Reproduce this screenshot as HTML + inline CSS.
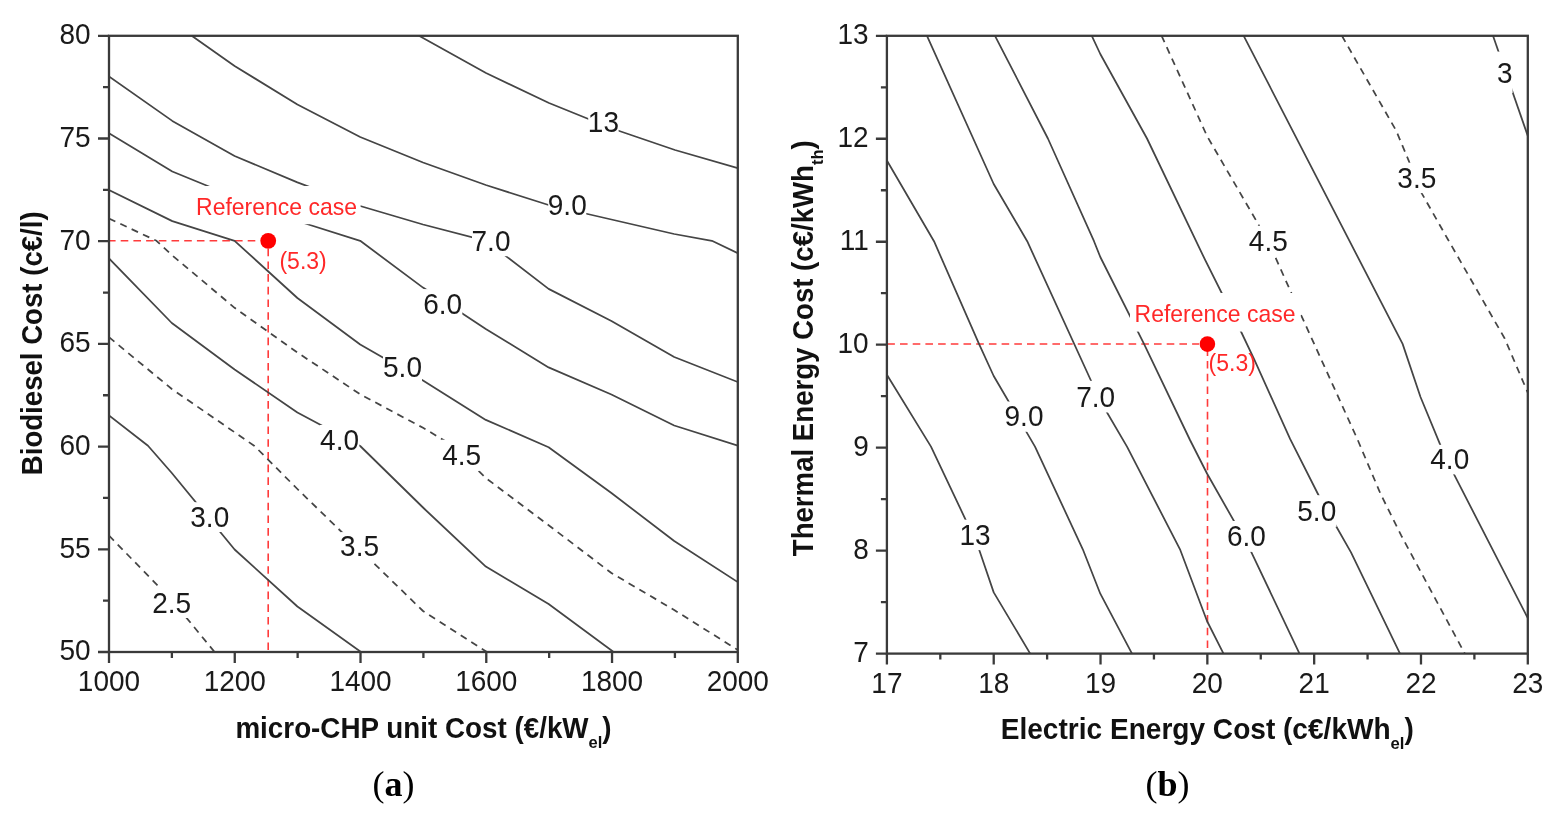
<!DOCTYPE html>
<html><head><meta charset="utf-8"><title>Figure</title>
<style>
html,body{margin:0;padding:0;background:#fff;width:1557px;height:813px;overflow:hidden}
svg{display:block}
.tk,.cl{font-family:"Liberation Sans",Arial,sans-serif;font-size:28px;fill:#1a1a1a}
.rd{font-family:"Liberation Sans",Arial,sans-serif;font-size:23px;fill:#ff2828}
.rdl{stroke:#ff3b3b;stroke-width:1.6;stroke-dasharray:7.6 5.1}
.at{font-family:"Liberation Sans",Arial,sans-serif;font-size:27px;font-weight:bold;fill:#111}
.sub{font-size:16px}
.pl{font-family:"Liberation Serif","Times New Roman",serif;font-size:36px;fill:#000}
</style></head><body>
<svg width="1557" height="813" viewBox="0 0 1557 813">
<defs><clipPath id="cl"><rect x="109.0" y="35.8" width="628.8" height="616.2"/></clipPath><clipPath id="cr"><rect x="886.9" y="35.8" width="640.9" height="617.8000000000001"/></clipPath></defs>
<g clip-path="url(#cl)">
<line x1="108" y1="240.8" x2="260" y2="240.8" class="rdl"/>
<line x1="268.2" y1="248.7" x2="268.2" y2="652.0" class="rdl"/>
<polyline points="419.0,35.8 486.0,73.0 549.0,103.0 612.0,128.5 675.0,150.0 737.8,168.2" fill="none" stroke="#454545" stroke-width="1.75" stroke-linejoin="round"/>
<polyline points="191.7,35.8 234.6,66.0 297.4,104.5 360.2,137.0 423.0,162.5 485.8,185.0 548.6,205.0 611.4,219.5 674.2,234.0 711.9,240.8 737.8,253.2" fill="none" stroke="#454545" stroke-width="1.75" stroke-linejoin="round"/>
<polyline points="109.0,76.5 172.3,120.9 234.6,156.0 297.4,182.4 360.2,206.0 423.0,224.5 486.0,240.8 548.6,288.9 611.4,321.0 674.2,357.0 737.8,382.0" fill="none" stroke="#454545" stroke-width="1.75" stroke-linejoin="round"/>
<polyline points="109.0,133.3 172.3,171.5 234.6,197.0 297.4,221.0 360.2,240.8 423.0,287.6 485.8,329.0 548.6,367.4 611.4,394.5 674.2,425.5 737.8,445.7" fill="none" stroke="#454545" stroke-width="1.75" stroke-linejoin="round"/>
<polyline points="109.0,190.1 172.3,221.1 234.6,240.8 297.4,298.0 360.2,344.5 423.0,380.5 485.8,419.9 548.6,447.2 611.4,493.0 674.2,541.0 737.8,582.1" fill="none" stroke="#454545" stroke-width="1.75" stroke-linejoin="round"/>
<polyline points="109.0,218.5 156.5,240.8 171.8,255.0 234.6,307.8 297.4,352.5 360.2,394.3 423.0,427.8 453.0,445.7 485.8,478.0 548.6,525.2 611.4,573.0 674.2,610.0 737.8,650.0" fill="none" stroke="#454545" stroke-width="1.75" stroke-linejoin="round" stroke-dasharray="7 5.5"/>
<polyline points="109.0,258.4 171.8,323.0 234.6,369.5 297.4,412.5 360.2,446.0 423.0,507.5 485.8,566.6 548.6,604.0 613.6,652.0" fill="none" stroke="#454545" stroke-width="1.75" stroke-linejoin="round"/>
<polyline points="109.0,337.2 171.8,389.0 254.5,446.0 297.4,489.0 360.2,550.0 423.0,611.0 487.0,652.0" fill="none" stroke="#454545" stroke-width="1.75" stroke-linejoin="round" stroke-dasharray="7 5.5"/>
<polyline points="109.0,415.4 148.0,445.7 171.8,473.0 234.6,549.5 297.4,606.5 361.0,652.0" fill="none" stroke="#454545" stroke-width="1.75" stroke-linejoin="round"/>
<polyline points="109.0,535.6 171.8,600.0 214.6,652.0" fill="none" stroke="#454545" stroke-width="1.75" stroke-linejoin="round" stroke-dasharray="7 5.5"/>
<rect x="588.2" y="107.2" width="30.4" height="30.3" fill="#fff"/><text transform="translate(603.40,132.00) scale(1.0,1.07)" text-anchor="middle" class="cl">13</text>
<rect x="548.2" y="189.8" width="38.1" height="30.4" fill="#fff"/><text transform="translate(567.25,214.70) scale(1.0,1.07)" text-anchor="middle" class="cl">9.0</text>
<rect x="472.0" y="225.5" width="38.0" height="30.7" fill="#fff"/><text transform="translate(491.00,250.70) scale(1.0,1.07)" text-anchor="middle" class="cl">7.0</text>
<rect x="422.9" y="289.1" width="39.4" height="30.4" fill="#fff"/><text transform="translate(442.60,314.00) scale(1.0,1.07)" text-anchor="middle" class="cl">6.0</text>
<rect x="383.0" y="352.3" width="39.0" height="30.4" fill="#fff"/><text transform="translate(402.50,377.20) scale(1.0,1.07)" text-anchor="middle" class="cl">5.0</text>
<rect x="441.7" y="439.7" width="40.0" height="31.1" fill="#fff"/><text transform="translate(461.70,465.30) scale(1.0,1.07)" text-anchor="middle" class="cl">4.5</text>
<rect x="319.8" y="425.0" width="39.5" height="30.5" fill="#fff"/><text transform="translate(339.55,450.00) scale(1.0,1.07)" text-anchor="middle" class="cl">4.0</text>
<rect x="340.5" y="532.1" width="38.1" height="29.6" fill="#fff"/><text transform="translate(359.55,556.20) scale(1.0,1.07)" text-anchor="middle" class="cl">3.5</text>
<rect x="190.7" y="502.2" width="38.1" height="29.8" fill="#fff"/><text transform="translate(209.75,526.50) scale(1.0,1.07)" text-anchor="middle" class="cl">3.0</text>
<rect x="151.9" y="588.2" width="39.5" height="29.8" fill="#fff"/><text transform="translate(171.65,612.50) scale(1.0,1.07)" text-anchor="middle" class="cl">2.5</text>
<rect x="192.6" y="186" width="168" height="38.2" fill="#fff"/>
<text transform="translate(276.50,215.20) scale(1.0,1.07)" text-anchor="middle" class="rd">Reference case</text>
<circle cx="268.2" cy="240.8" r="7.9" fill="#ff0000"/>
<text transform="translate(303.10,268.60) scale(1.0,1.07)" text-anchor="middle" class="rd">(5.3)</text>
</g>
<g clip-path="url(#cr)">
<line x1="887.3" y1="344" x2="1199" y2="344" class="rdl"/>
<line x1="1207.5" y1="348.3" x2="1207.5" y2="653.6" class="rdl"/>
<polyline points="886.9,374.7 931.0,446.6 965.2,518.8 979.0,549.3 993.7,592.4 1030.2,653.6" fill="none" stroke="#454545" stroke-width="1.75" stroke-linejoin="round"/>
<polyline points="886.9,160.5 934.0,241.2 979.0,343.9 993.7,376.0 1035.0,446.6 1082.8,549.3 1100.3,593.7 1132.0,653.6" fill="none" stroke="#454545" stroke-width="1.75" stroke-linejoin="round"/>
<polyline points="927.0,35.8 993.7,184.0 1027.2,241.2 1100.3,401.0 1127.0,446.6 1180.0,549.3 1207.0,621.0 1223.5,653.6" fill="none" stroke="#454545" stroke-width="1.75" stroke-linejoin="round"/>
<polyline points="995.0,35.8 1047.9,138.5 1094.0,241.2 1100.3,257.0 1144.0,343.9 1190.0,440.0 1207.0,473.5 1250.0,549.3 1299.5,653.6" fill="none" stroke="#454545" stroke-width="1.75" stroke-linejoin="round"/>
<polyline points="1091.8,35.8 1100.3,54.0 1147.0,138.5 1205.0,259.7 1241.2,332.0 1254.1,359.2 1290.2,439.2 1318.7,495.5 1336.7,527.3 1351.0,552.4 1400.0,653.6" fill="none" stroke="#454545" stroke-width="1.75" stroke-linejoin="round"/>
<polyline points="1161.6,35.8 1207.0,136.0 1258.0,223.7 1274.7,255.8 1291.5,293.3 1300.6,314.0 1357.4,439.2 1380.7,494.2 1401.3,535.6 1464.8,653.6" fill="none" stroke="#454545" stroke-width="1.75" stroke-linejoin="round" stroke-dasharray="7 5.5"/>
<polyline points="1243.7,35.8 1402.6,343.9 1420.5,397.0 1441.0,446.6 1454.3,474.9 1527.8,618.2" fill="none" stroke="#454545" stroke-width="1.75" stroke-linejoin="round"/>
<polyline points="1341.9,35.8 1396.2,130.7 1409.1,161.7 1415.0,177.0 1420.7,191.5 1447.8,239.2 1504.7,338.5 1527.8,392.7" fill="none" stroke="#454545" stroke-width="1.75" stroke-linejoin="round" stroke-dasharray="7 5.5"/>
<polyline points="1493.0,35.8 1527.8,135.9" fill="none" stroke="#454545" stroke-width="1.75" stroke-linejoin="round"/>
<rect x="1496.8" y="51.6" width="15.8" height="41.5" fill="#fff"/><text transform="translate(1504.70,82.50) scale(1.0,1.07)" text-anchor="middle" class="cl">3</text>
<rect x="1397.7" y="162.7" width="38.2" height="30.4" fill="#fff"/><text transform="translate(1416.80,187.60) scale(1.0,1.07)" text-anchor="middle" class="cl">3.5</text>
<rect x="1247.9" y="225.8" width="40.8" height="30.4" fill="#fff"/><text transform="translate(1268.30,250.70) scale(1.0,1.07)" text-anchor="middle" class="cl">4.5</text>
<rect x="1004.3" y="401.5" width="39.4" height="30.3" fill="#fff"/><text transform="translate(1024.00,426.30) scale(1.0,1.07)" text-anchor="middle" class="cl">9.0</text>
<rect x="1076.6" y="380.8" width="38.2" height="31.7" fill="#fff"/><text transform="translate(1095.70,407.00) scale(1.0,1.07)" text-anchor="middle" class="cl">7.0</text>
<rect x="1430.0" y="444.8" width="39.5" height="29.6" fill="#fff"/><text transform="translate(1449.75,468.90) scale(1.0,1.07)" text-anchor="middle" class="cl">4.0</text>
<rect x="1297.0" y="495.2" width="39.5" height="31.7" fill="#fff"/><text transform="translate(1316.75,521.40) scale(1.0,1.07)" text-anchor="middle" class="cl">5.0</text>
<rect x="1226.0" y="521.0" width="40.7" height="30.9" fill="#fff"/><text transform="translate(1246.35,546.40) scale(1.0,1.07)" text-anchor="middle" class="cl">6.0</text>
<rect x="960.4" y="519.7" width="29.1" height="30.4" fill="#fff"/><text transform="translate(974.95,544.60) scale(1.0,1.07)" text-anchor="middle" class="cl">13</text>
<rect x="1130" y="293" width="170.5" height="38.6" fill="#fff"/>
<text transform="translate(1215.00,322.40) scale(1.0,1.07)" text-anchor="middle" class="rd">Reference case</text>
<circle cx="1207.4" cy="344.1" r="7.8" fill="#ff0000"/>
<text transform="translate(1232.20,371.00) scale(1.0,1.07)" text-anchor="middle" class="rd">(5.3)</text>
</g>
<rect x="109.0" y="35.8" width="628.8" height="616.2" fill="none" stroke="#3a3a3a" stroke-width="2.3"/>
<rect x="886.9" y="35.8" width="640.9" height="617.8" fill="none" stroke="#3a3a3a" stroke-width="2.3"/>
<text transform="translate(90.70,660.30) scale(1.0,1.07)" text-anchor="end" class="tk">50</text>
<text transform="translate(90.70,557.60) scale(1.0,1.07)" text-anchor="end" class="tk">55</text>
<text transform="translate(90.70,454.90) scale(1.0,1.07)" text-anchor="end" class="tk">60</text>
<text transform="translate(90.70,352.20) scale(1.0,1.07)" text-anchor="end" class="tk">65</text>
<text transform="translate(90.70,249.50) scale(1.0,1.07)" text-anchor="end" class="tk">70</text>
<text transform="translate(90.70,146.80) scale(1.0,1.07)" text-anchor="end" class="tk">75</text>
<text transform="translate(90.70,44.10) scale(1.0,1.07)" text-anchor="end" class="tk">80</text>
<text transform="translate(109.00,691.30) scale(1.0,1.07)" text-anchor="middle" class="tk">1000</text>
<text transform="translate(234.76,691.30) scale(1.0,1.07)" text-anchor="middle" class="tk">1200</text>
<text transform="translate(360.52,691.30) scale(1.0,1.07)" text-anchor="middle" class="tk">1400</text>
<text transform="translate(486.28,691.30) scale(1.0,1.07)" text-anchor="middle" class="tk">1600</text>
<text transform="translate(612.04,691.30) scale(1.0,1.07)" text-anchor="middle" class="tk">1800</text>
<text transform="translate(737.80,691.30) scale(1.0,1.07)" text-anchor="middle" class="tk">2000</text>
<text transform="translate(868.70,661.90) scale(1.0,1.07)" text-anchor="end" class="tk">7</text>
<text transform="translate(868.70,558.93) scale(1.0,1.07)" text-anchor="end" class="tk">8</text>
<text transform="translate(868.70,455.97) scale(1.0,1.07)" text-anchor="end" class="tk">9</text>
<text transform="translate(868.70,353.00) scale(1.0,1.07)" text-anchor="end" class="tk">10</text>
<text transform="translate(868.70,250.03) scale(1.0,1.07)" text-anchor="end" class="tk">11</text>
<text transform="translate(868.70,147.07) scale(1.0,1.07)" text-anchor="end" class="tk">12</text>
<text transform="translate(868.70,44.10) scale(1.0,1.07)" text-anchor="end" class="tk">13</text>
<text transform="translate(886.90,692.90) scale(1.0,1.07)" text-anchor="middle" class="tk">17</text>
<text transform="translate(993.72,692.90) scale(1.0,1.07)" text-anchor="middle" class="tk">18</text>
<text transform="translate(1100.53,692.90) scale(1.0,1.07)" text-anchor="middle" class="tk">19</text>
<text transform="translate(1207.35,692.90) scale(1.0,1.07)" text-anchor="middle" class="tk">20</text>
<text transform="translate(1314.17,692.90) scale(1.0,1.07)" text-anchor="middle" class="tk">21</text>
<text transform="translate(1420.98,692.90) scale(1.0,1.07)" text-anchor="middle" class="tk">22</text>
<text transform="translate(1527.80,692.90) scale(1.0,1.07)" text-anchor="middle" class="tk">23</text>
<path d="M98.0,652.00H109.0 M103.0,600.65H109.0 M98.0,549.30H109.0 M103.0,497.95H109.0 M98.0,446.60H109.0 M103.0,395.25H109.0 M98.0,343.90H109.0 M103.0,292.55H109.0 M98.0,241.20H109.0 M103.0,189.85H109.0 M98.0,138.50H109.0 M103.0,87.15H109.0 M98.0,35.80H109.0 M109.00,652.0V663.0 M171.88,652.0V658.0 M234.76,652.0V663.0 M297.64,652.0V658.0 M360.52,652.0V663.0 M423.40,652.0V658.0 M486.28,652.0V663.0 M549.16,652.0V658.0 M612.04,652.0V663.0 M674.92,652.0V658.0 M737.80,652.0V663.0 M875.9,653.60H886.9 M880.9,602.12H886.9 M875.9,550.63H886.9 M880.9,499.15H886.9 M875.9,447.67H886.9 M880.9,396.18H886.9 M875.9,344.70H886.9 M880.9,293.22H886.9 M875.9,241.73H886.9 M880.9,190.25H886.9 M875.9,138.77H886.9 M880.9,87.28H886.9 M875.9,35.80H886.9 M886.90,653.6V664.6 M940.31,653.6V659.6 M993.72,653.6V664.6 M1047.12,653.6V659.6 M1100.53,653.6V664.6 M1153.94,653.6V659.6 M1207.35,653.6V664.6 M1260.76,653.6V659.6 M1314.17,653.6V664.6 M1367.57,653.6V659.6 M1420.98,653.6V664.6 M1474.39,653.6V659.6 M1527.80,653.6V664.6" stroke="#3a3a3a" stroke-width="2.3" fill="none"/>
<text transform="translate(423.50,737.50) scale(1.03,1.07)" text-anchor="middle" class="at">micro-CHP unit Cost (€/kW<tspan class="sub" dy="9.5">el</tspan><tspan dy="-9.5">)</tspan></text>
<text transform="translate(1207.30,739.00) scale(1.04,1.07)" text-anchor="middle" class="at">Electric Energy Cost (c€/kWh<tspan class="sub" dy="9.5">el</tspan><tspan dy="-9.5">)</tspan></text>
<text transform="translate(42.10,343.30) scale(1.06,1.023) rotate(-90)" text-anchor="middle" class="at">Biodiesel Cost (c€/l)</text>
<text transform="translate(812.60,348.30) scale(1.06,1.023) rotate(-90)" text-anchor="middle" class="at">Thermal Energy Cost (c€/kWh<tspan class="sub" dy="9.5">th</tspan><tspan dy="-9.5">)</tspan></text>
<text x="393.6" y="795.8" text-anchor="middle" class="pl">(<tspan font-weight="bold">a</tspan>)</text>
<text x="1167.4" y="795.8" text-anchor="middle" class="pl">(<tspan font-weight="bold">b</tspan>)</text>
</svg>
</body></html>
